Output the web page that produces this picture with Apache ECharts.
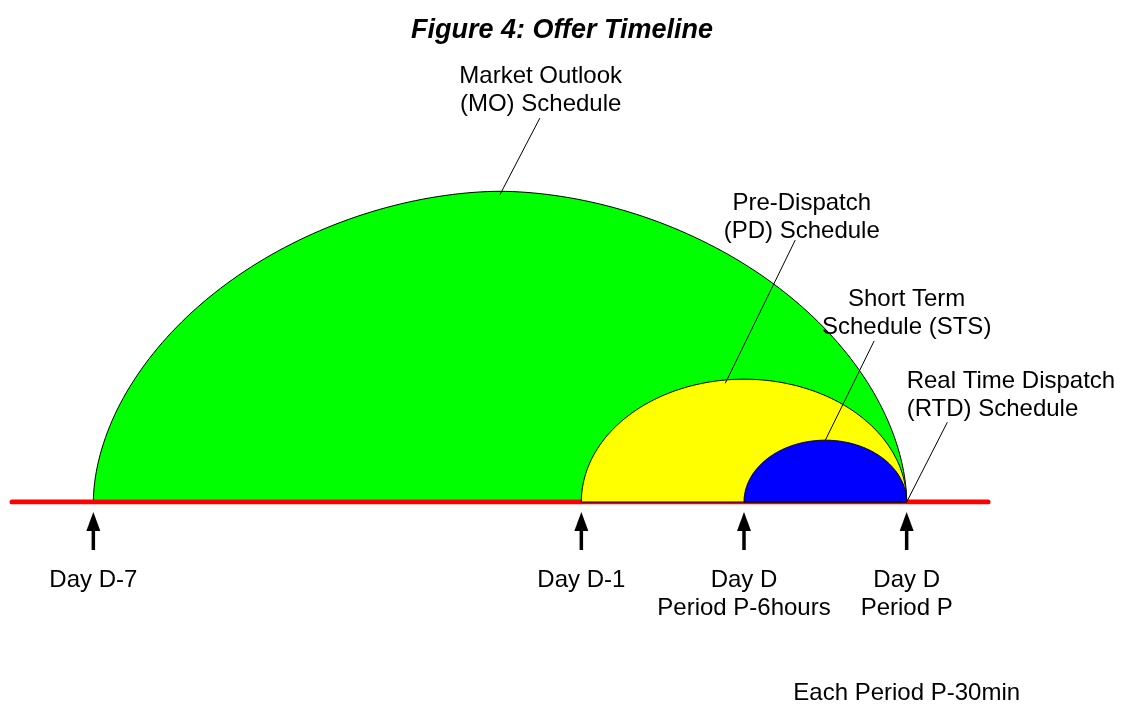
<!DOCTYPE html>
<html>
<head>
<meta charset="utf-8">
<script src="https://cdn.jsdelivr.net/npm/echarts@6/dist/echarts.min.js"></script>
<style>
  html, body { margin: 0; background: #fff; }
  #chart { width: 1124px; height: 704px; }
</style>
</head>
<body>
<div id="chart"></div>
<script>
// timeline, in days after Day D-7
const timelineExtent = [-1, 11];
const tickPositions = [0, 6, 8, 10];
const tickLabels = ["Day D-7", "Day D-1", "Day D\nPeriod P-6hours", "Day D\nPeriod P"];

// schedule domes: where each starts / ends and how tall it is
const scheduleNames = ["Market Outlook\n(MO) Schedule", "Pre-Dispatch\n(PD) Schedule", "Short Term\nSchedule (STS)"];
const scheduleStart = [0, 6, 8];
const scheduleEnd = [10, 10, 10];
const scheduleHeight = [3.82, 1.51, 0.76];

// callouts: label anchor and leader line (from -> to), in chart units
const calloutTexts = [...scheduleNames, "Real Time Dispatch\n(RTD) Schedule"];
const calloutLabelAt = [[5.5, 5.055], [8.71, 3.495], [10.0, 2.325], [10.0, 1.305]];
const calloutLines = [
  [5.49, 4.72, 5.0, 3.78],
  [8.63, 3.22, 7.77, 1.46],
  [9.6, 1.98, 9.0, 0.76],
  [10.5, 0.98, 10.0, 0.0],
];
const footnote = "Each Period P-30min";

const FONT = '"Liberation Sans", Arial, Helvetica, sans-serif';
const domeColors = ["#00ff00", "#ffff00", "#0000ff"];
const domeExponent = [1.85, 2, 2];
const calloutAlign = ["center", "center", "center", "left"];

const chart = echarts.init(document.getElementById("chart"));

function domeItem(params, api) {
  const i = params.dataIndex;
  const s = api.value(0), e = api.value(1), h = api.value(2);
  const c = (s + e) / 2, r = (e - s) / 2;
  const p = domeExponent[i];
  const pts = [];
  for (let k = 0; k <= 160; k++) {
    const t = (Math.PI * k) / 160;
    const cx = Math.cos(Math.PI - t);
    const sy = Math.sin(t);
    const x = c + r * Math.sign(cx) * Math.pow(Math.abs(cx), 2 / p);
    const y = h * Math.pow(sy, 2 / p);
    pts.push(api.coord([x, y]));
  }
  return {
    type: "polygon",
    shape: { points: pts },
    style: { fill: domeColors[i], stroke: "#000", lineWidth: 1 },
  };
}

const domeData = scheduleNames.map((n, i) => [scheduleStart[i], scheduleEnd[i], scheduleHeight[i]]);

chart.setOption({
  animation: false,
  title: {
    text: "Figure 4: Offer Timeline",
    left: "center",
    top: 12,
    textStyle: { fontSize: 27, fontStyle: "italic", fontWeight: "bold", fontFamily: FONT, color: "#000" },
  },
  grid: { left: 12, right: 136, top: 14, bottom: 202 },
  xAxis: { type: "value", min: timelineExtent[0], max: timelineExtent[1], show: false },
  yAxis: { type: "value", min: 0, max: 6, show: false },
  series: [
    {
      type: "custom",
      z: 1,
      renderItem: domeItem,
      data: domeData.slice(0, 1),
    },
    {
      type: "line",
      z: 2,
      symbol: "none",
      lineStyle: { color: "#ff0000", width: 5, cap: "round" },
      data: [[timelineExtent[0], 0], [timelineExtent[1], 0]],
    },
    {
      type: "custom",
      z: 3,
      renderItem: (params, api) => domeItem({ dataIndex: params.dataIndex + 1 }, api),
      data: domeData.slice(1),
    },
    {
      // arrows and tick labels
      type: "custom",
      z: 4,
      renderItem: (params, api) => {
        const [x, y] = api.coord([api.value(0), 0]);
        return {
          type: "group",
          children: [
            {
              type: "polygon",
              shape: { points: [[x, y + 10], [x - 7, y + 29], [x + 7, y + 29]] },
              style: { fill: "#000" },
            },
            {
              type: "rect",
              shape: { x: x - 1.75, y: y + 26, width: 3.5, height: 22 },
              style: { fill: "#000" },
            },
            {
              type: "text",
              x: x,
              y: y + 64,
              style: {
                text: tickLabels[params.dataIndex],
                fill: "#000",
                fontSize: 24,
                fontFamily: FONT,
                align: "center",
                verticalAlign: "top",
                lineHeight: 28,
              },
            },
          ],
        };
      },
      data: tickPositions.map((v) => [v]),
    },
    {
      // callouts
      type: "custom",
      z: 5,
      renderItem: (params, api) => {
        const i = params.dataIndex;
        const l = calloutLines[i];
        const a = api.coord([l[0], l[1]]);
        const b = api.coord([l[2], l[3]]);
        const t = api.coord(calloutLabelAt[i]);
        return {
          type: "group",
          children: [
            {
              type: "line",
              shape: { x1: a[0], y1: a[1], x2: b[0], y2: b[1] },
              style: { stroke: "#000", lineWidth: 1 },
            },
            {
              type: "text",
              x: t[0],
              y: t[1],
              style: {
                text: calloutTexts[i],
                fill: "#000",
                fontSize: 24,
                fontFamily: FONT,
                align: calloutAlign[i],
                verticalAlign: "middle",
                lineHeight: 28,
              },
            },
          ],
        };
      },
      data: calloutTexts.map((t, i) => [calloutLabelAt[i][0], calloutLabelAt[i][1]]),
    },
    {
      type: "custom",
      z: 5,
      renderItem: (params, api) => {
        const [x, y] = api.coord([api.value(0), 0]);
        return {
          type: "text",
          x: x,
          y: y + 191,
          style: {
            text: footnote,
            fill: "#000",
            fontSize: 24,
            fontFamily: FONT,
            align: "center",
            verticalAlign: "middle",
          },
        };
      },
      data: [[tickPositions[3]]],
    },
  ],
});

window.addEventListener("resize", () => chart.resize());
</script>
</body>
</html>
